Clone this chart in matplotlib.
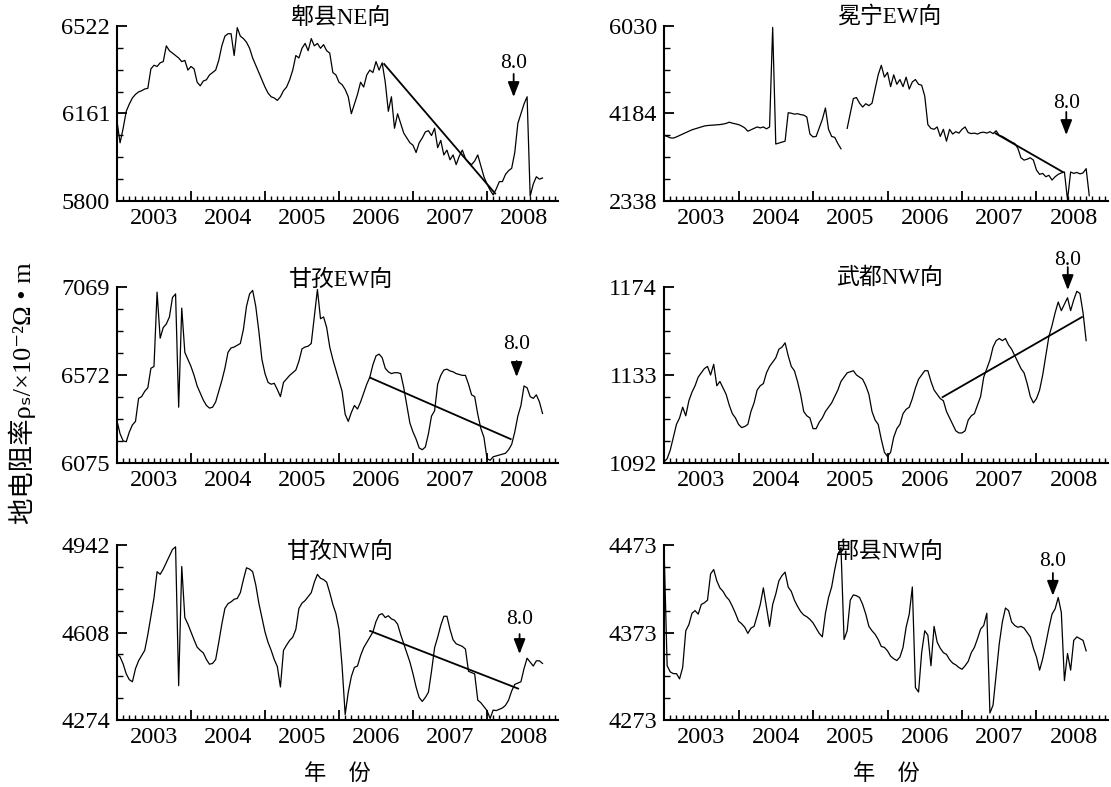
import numpy as np
import matplotlib
matplotlib.use('Agg')
import matplotlib.pyplot as plt
from matplotlib.ticker import FixedLocator, MultipleLocator

plt.rcParams['font.family'] = ['Liberation Serif', 'Noto Sans CJK SC', 'DejaVu Sans']

# ---------------- data (semi-monthly samples starting 2003.0) ----------------
T0 = 2003.0
DT = 1.0 / 24.0

titles = ["郫县NE向", "冕宁EW向", "甘孜EW向", "武都NW向", "甘孜NW向", "郫县NW向"]
year_labels = ["2003", "2004", "2005", "2006", "2007", "2008"]

yticks_list = [
    [5800, 6161, 6522],
    [2338, 4184, 6030],
    [6075, 6572, 7069],
    [1092, 1133, 1174],
    [4274, 4608, 4942],
    [4273, 4373, 4473],
]

pixian_ne = [
    6130, 6040, 6100, 6170, 6200, 6225, 6240, 6250, 6255, 6262, 6265, 6345,
    6360, 6355, 6370, 6375, 6440, 6420, 6410, 6400, 6390, 6375, 6380, 6340,
    6355, 6345, 6290, 6275, 6295, 6300, 6320, 6330, 6340, 6380, 6440, 6480,
    6490, 6490, 6400, 6515, 6480, 6470, 6455, 6430, 6390, 6360, 6330, 6300,
    6270, 6245, 6230, 6225, 6215, 6230, 6255, 6270, 6300, 6340, 6400, 6390,
    6430, 6450, 6420, 6470, 6440, 6450, 6430, 6445, 6420, 6410, 6330, 6320,
    6290, 6280, 6260, 6230, 6160, 6200, 6240, 6290, 6270, 6320, 6340, 6330,
    6375, 6340, 6370, 6290, 6170, 6230, 6100, 6160, 6120, 6080, 6060, 6040,
    6030, 6000, 6040, 6060, 6085, 6090, 6070, 6100, 6020, 6050, 5990, 6010,
    5970, 5990, 5950, 5985, 6010, 5975, 5960, 5950, 5965, 5990, 5945, 5900,
    5870, 5845, 5825, 5850, 5880, 5880, 5910, 5925, 5935, 6000, 6120, 6160,
    6200, 6230, 5820, 5870, 5900, 5890, 5895,
]

mianning_ew = [
    3722, 3700, 3670, 3665, 3690, 3720, 3750, 3780, 3810, 3840, 3860, 3880,
    3900, 3920, 3930, 3935, 3940, 3945, 3950, 3960, 3975, 4000, 3980, 3965,
    3950, 3920, 3880, 3810, 3840, 3870, 3900, 3880, 3900, 3860, 3900, 6000,
    3540, 3560, 3580, 3600, 4200, 4190, 4170, 4180, 4160, 4150, 4110, 3750,
    3690, 3700, 3880, 4060, 4300, 3850, 3700, 3680, 3550, 3440, np.nan, 3870,
    4180, 4500, 4520, 4400, 4320, 4390, 4350, 4400, 4700, 5000, 5200, 4950,
    5050, 4750, 5000, 4800, 4900, 4750, 4950, 4700, 4850, 4900, 4800, 4780,
    4550, 3950, 3870, 3850, 3900, 3700, 3850, 3600, 3850, 3750, 3800, 3770,
    3850, 3900, 3780, 3760, 3770, 3750, 3780, 3790, 3770, 3800, 3760, 3820,
    3720, 3700, 3660, 3620, 3580, 3550, 3450, 3250, 3200, 3220, 3250, 3200,
    2990, 2900, 2920, 2850, 2880, 2780, 2850, 2900, 2930, 2950, 2360, 2950,
    2920, 2940, 2910, 2930, 3020, 2450,
]

ganzi_ew = [
    6313, 6240, 6200, 6195, 6250, 6290, 6310, 6440, 6450, 6480, 6500, 6610,
    6620, 7040, 6780, 6840, 6860, 6900, 7010, 7030, 6390, 6950, 6700, 6660,
    6620, 6570, 6510, 6470, 6430, 6400, 6385, 6390, 6420, 6480, 6540, 6610,
    6700, 6725, 6730, 6740, 6750, 6830, 6960, 7030, 7050, 6960, 6820, 6660,
    6580, 6530, 6520, 6525, 6490, 6450, 6530, 6550, 6570, 6585, 6600, 6650,
    6720, 6730, 6735, 6750, 6900, 7055, 6890, 6900, 6840, 6730, 6660, 6600,
    6540, 6480, 6350, 6310, 6360, 6400, 6380, 6420, 6470, 6520, 6560, 6630,
    6680, 6690, 6670, 6610, 6590, 6580, 6585, 6585, 6580, 6500, 6400, 6300,
    6250, 6210, 6160, 6150, 6165, 6240, 6340, 6370, 6520, 6570, 6600, 6605,
    6595, 6590, 6580, 6575, 6570, 6570, 6520, 6460, 6450, 6350, 6270, 6220,
    6100, 6090, 6110, 6115, 6120, 6125, 6130, 6150, 6180, 6250, 6340, 6400,
    6510, 6500, 6450, 6440, 6460, 6420, 6355,
]

wudu_nw = [
    1092.5, 1094, 1098, 1104, 1110, 1113, 1118, 1114, 1121, 1125, 1128, 1132,
    1134, 1136, 1137, 1133, 1138, 1128, 1130, 1127, 1124, 1119, 1115, 1113,
    1110, 1108.5, 1109, 1110, 1116, 1120, 1126, 1128, 1129, 1134, 1137, 1139,
    1141, 1145, 1146, 1148, 1142, 1137, 1135, 1130, 1124, 1116, 1114, 1113,
    1108, 1108, 1111, 1113, 1116, 1118, 1120, 1123, 1126, 1130, 1132, 1134,
    1134.5, 1135, 1133, 1132, 1131, 1128, 1124, 1116, 1112, 1110, 1103, 1097,
    1095, 1097, 1104, 1108, 1110, 1115, 1117, 1118, 1122, 1127, 1131, 1133,
    1135, 1135, 1130, 1126, 1124, 1122, 1121, 1116, 1113, 1110, 1107, 1106,
    1106, 1107, 1112, 1114, 1115, 1119, 1123, 1132, 1136, 1140, 1146, 1149,
    1150, 1149, 1150, 1147, 1145, 1142, 1139, 1136, 1134, 1129, 1123, 1120,
    1122, 1126, 1133, 1142, 1151, 1156, 1162, 1167, 1163, 1166, 1169, 1163,
    1168, 1172, 1171, 1162, 1149,
]

ganzi_nw = [
    4526, 4515, 4488, 4450, 4428, 4420, 4470, 4500, 4520, 4540, 4600, 4670,
    4740, 4840, 4830, 4850, 4875, 4900, 4925, 4935, 4405, 4860, 4665, 4640,
    4610, 4580, 4552, 4540, 4530, 4505, 4487, 4490, 4505, 4570, 4640, 4700,
    4718, 4725, 4735, 4738, 4760, 4810, 4855, 4850, 4840, 4790, 4720, 4665,
    4610, 4570, 4540, 4505, 4478, 4400, 4540, 4560, 4578, 4590, 4620, 4700,
    4720, 4730, 4745, 4760, 4800, 4830, 4815, 4810, 4800, 4760, 4715, 4680,
    4620, 4480, 4295, 4380, 4440, 4475, 4480, 4520, 4550, 4570, 4590, 4610,
    4650, 4675, 4680, 4665, 4672, 4660, 4655, 4640, 4600, 4565, 4530, 4495,
    4450, 4400, 4360, 4345, 4360, 4380, 4460, 4550, 4590, 4635, 4670, 4670,
    4620, 4580, 4565, 4560, 4555, 4545, 4460, 4455, 4450, 4350, 4340, 4325,
    4310, 4280, 4312, 4310, 4315, 4320, 4330, 4350, 4385, 4410, 4415, 4420,
    4470, 4510, 4495, 4480, 4500, 4500, 4490,
]

pixian_nw = [
    4470, 4335, 4328, 4326, 4326, 4320, 4333, 4375, 4382, 4395, 4398, 4394,
    4405, 4407, 4410, 4440, 4445, 4432, 4424, 4420, 4414, 4410, 4403, 4395,
    4386, 4383, 4379, 4372, 4378, 4380, 4392, 4405, 4424, 4402, 4380, 4405,
    4417, 4432, 4438, 4442, 4425, 4420, 4410, 4403, 4397, 4393, 4391, 4388,
    4384, 4378, 4372, 4368, 4395, 4413, 4425, 4445, 4462, 4470, 4365, 4375,
    4410, 4416, 4415, 4413, 4405, 4394, 4380, 4375, 4371, 4365, 4357, 4356,
    4352, 4346, 4343, 4341, 4345, 4356, 4379, 4394, 4425, 4310, 4305, 4350,
    4375, 4370, 4335, 4380, 4362, 4355, 4350, 4348, 4342, 4338, 4336, 4333,
    4331, 4335, 4340, 4350, 4356, 4366, 4377, 4381, 4395, 4281, 4290, 4325,
    4360, 4385, 4401, 4398, 4385, 4381, 4379, 4380, 4378, 4373, 4368, 4355,
    4345, 4330, 4343, 4360, 4378, 4394, 4400, 4413, 4396, 4318, 4349, 4330,
    4364, 4368, 4366, 4364, 4352,
]

series = [pixian_ne, mianning_ew, ganzi_ew, wudu_nw, ganzi_nw, pixian_nw]

# fitted trend lines (start, end) for each panel; None = no trend line
trend_x = [[2006.61, 2008.11], [2007.45, 2008.35], [2006.42, 2008.32],
           [2006.74, 2008.61], [2006.42, 2008.42], None]
trend_y = [[6365, 5831], [3764, 2953], [6557, 6210],
           [1122.7, 1160.0], [4614, 4394], None]

# Wenchuan M8.0 marker: time, label level, arrow tail, arrow tip
event_x = [2008.36, 2008.40, 2008.40, 2008.42, 2008.44, 2008.22]
event_text_y = [6369, 4405, 6745, 1186.5, 4658, 4454]
event_tail_y = [6324, 4216, 6651, 1183.3, 4602, 4441]
event_tip_y = [6229, 3730, 6561, 1172.6, 4526, 4415]

# ---------------- layout ----------------
fig = plt.figure(figsize=(11.11, 7.87), dpi=100)
lefts = [0.1053, 0.5977]
widths = [0.397, 0.3996]
bottoms = [0.7446, 0.4117, 0.0851]
heights = [0.2224, 0.2236, 0.2224]
title_y = [1.046, 1.05, 1.04, 1.05, 0.96, 0.96]

for k in range(6):
    row, col = divmod(k, 2)
    ax = fig.add_axes([lefts[col], bottoms[row], widths[col], heights[row]])
    vals = np.asarray(series[k], dtype=float)
    t = T0 + np.arange(len(vals)) * DT
    ax.plot(t, vals, color='black', lw=0.9)
    if trend_x[k] is not None:
        ax.plot(trend_x[k], trend_y[k], color='black', lw=1.3)

    yt = yticks_list[k]
    ax.set_xlim(2003.0, 2008.96)
    ax.set_ylim(yt[0], yt[-1])
    for s in ['top', 'right']:
        ax.spines[s].set_visible(False)
    for s in ['left', 'bottom']:
        ax.spines[s].set_linewidth(1.5)

    ax.set_yticks(yt)
    ax.set_yticklabels([str(v) for v in yt])
    ax.yaxis.set_minor_locator(FixedLocator(np.linspace(yt[0], yt[-1], 9)))
    ax.set_xticks(np.arange(2003, 2009))
    ax.set_xticklabels([])
    ax.xaxis.set_minor_locator(MultipleLocator(1.0 / 12.0))
    ax.tick_params(axis='both', which='both', direction='in')
    ax.tick_params(axis='y', which='major', length=7, width=1.3, labelsize=17.5, pad=5)
    ax.tick_params(axis='y', which='minor', length=4.5, width=1.0)
    ax.tick_params(axis='x', which='major', length=7, width=1.3)
    ax.tick_params(axis='x', which='minor', length=3.5, width=1.0)

    sec = ax.secondary_xaxis('bottom')
    sec.set_xticks(np.arange(2003, 2009) + 0.5)
    sec.set_xticklabels(year_labels)
    sec.tick_params(length=0, labelsize=17.5, pad=5)
    sec.spines['bottom'].set_visible(False)

    ax.text(0.507, title_y[k], titles[k], transform=ax.transAxes,
            ha='center', va='center', fontsize=16.5)

    ex = event_x[k]
    ax.annotate('', xy=(ex, event_tip_y[k]), xytext=(ex, event_tail_y[k]),
                arrowprops=dict(arrowstyle='-|>,head_length=0.9,head_width=0.35',
                                color='black', lw=1.3, shrinkA=0, shrinkB=0,
                                mutation_scale=10),
                annotation_clip=False)
    ax.text(ex, event_text_y[k], '8.0', ha='center', va='center',
            fontsize=15.5, clip_on=False)

    if row == 2:
        ax.text(0.5, -0.314, '年\u3000份', transform=ax.transAxes,
                ha='center', va='center', fontsize=16)

fig.text(0.02, 0.5, '地电阻率ρₛ/×10⁻²Ω • m', rotation=90,
         ha='center', va='center', fontsize=19)

fig.savefig('out.png', dpi=100)
